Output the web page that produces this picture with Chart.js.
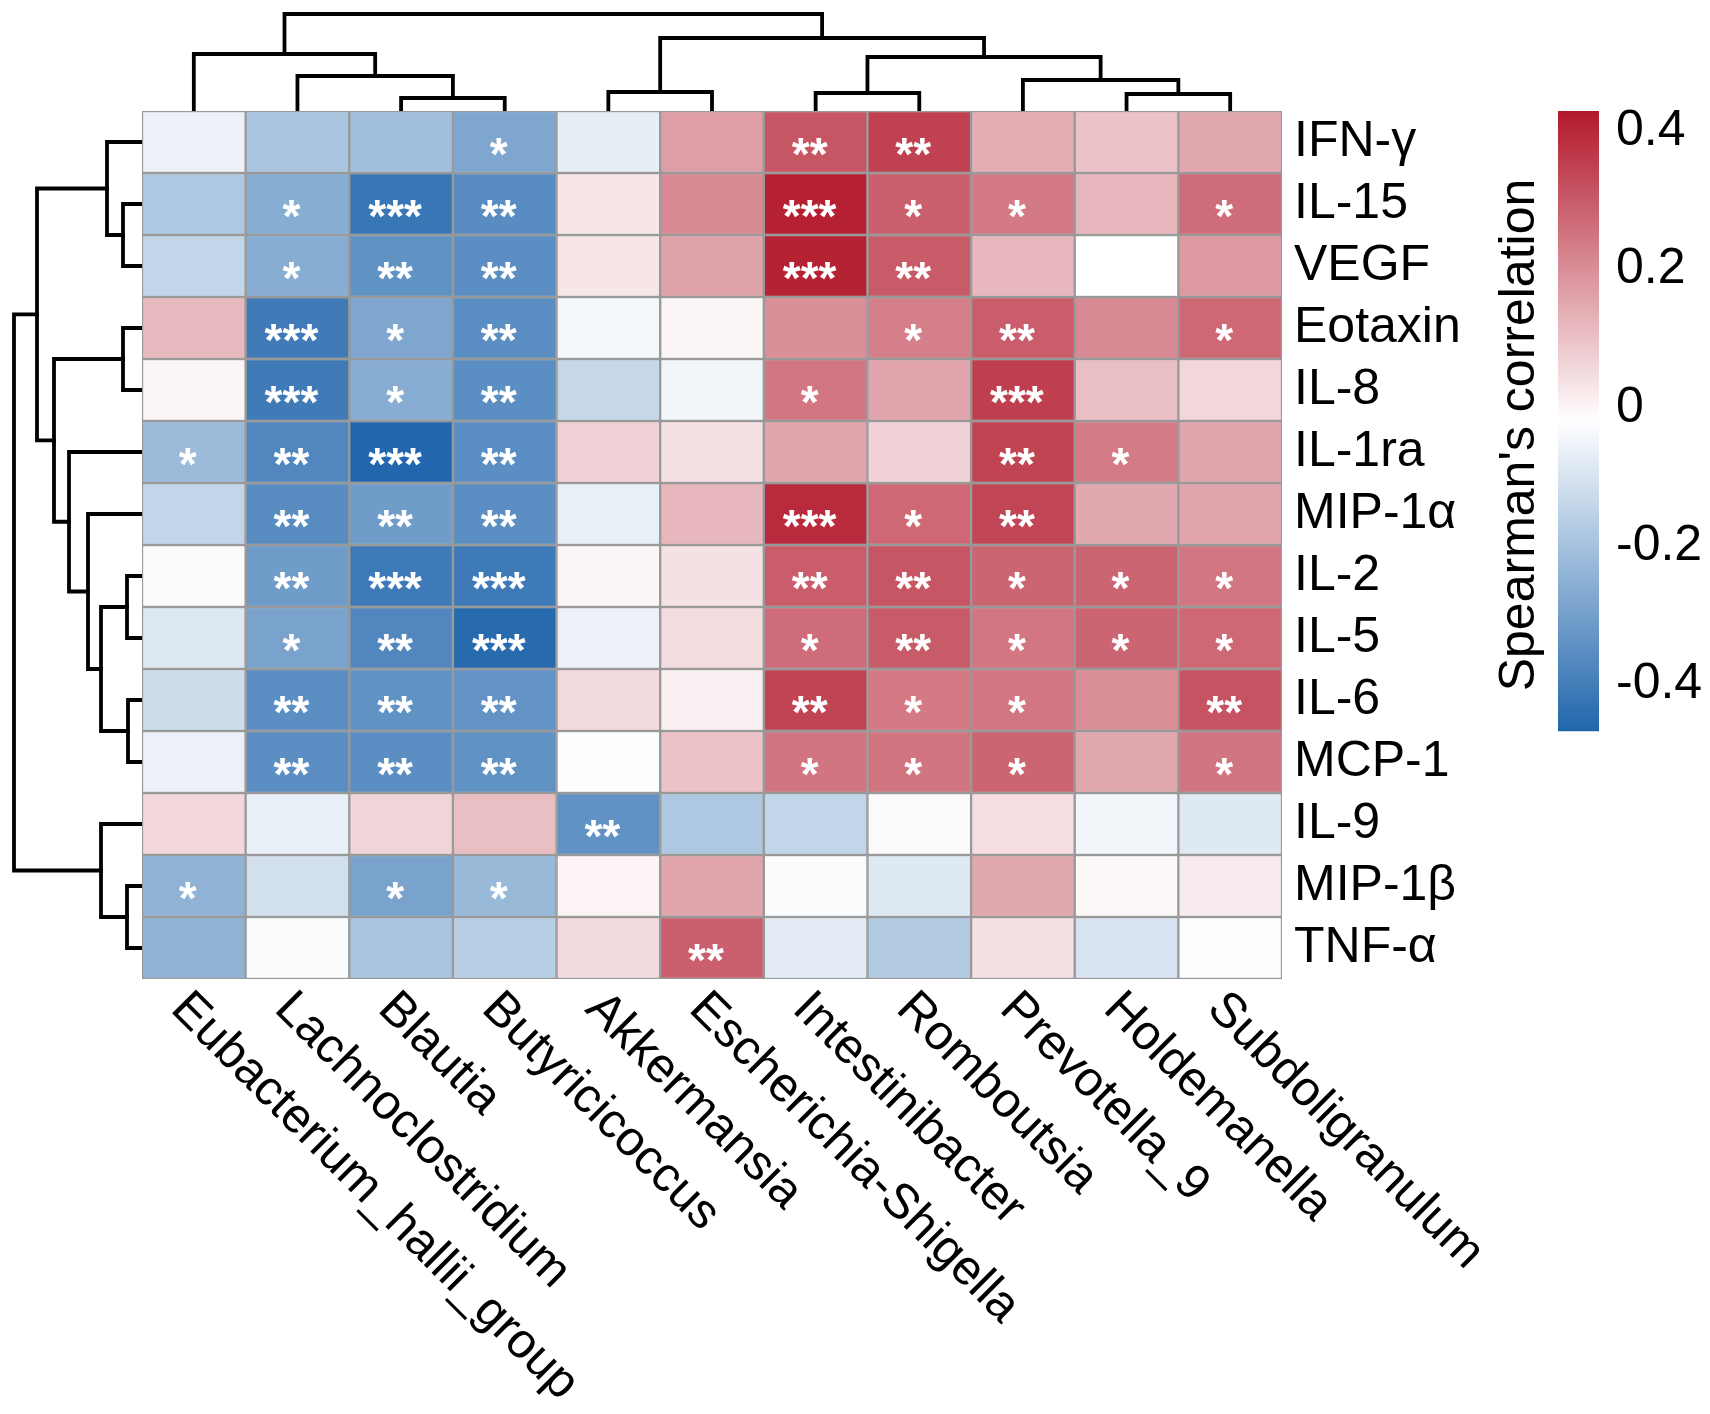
<!DOCTYPE html>
<html>
<head>
<meta charset="utf-8">
<script src="https://cdn.jsdelivr.net/npm/chart.js@4.4.1/dist/chart.umd.min.js"></script>
<style>
html,body{margin:0;padding:0;background:#fff;}
#wrap{position:relative;width:1710px;height:1414px;overflow:hidden;background:#fff;}
canvas{position:absolute;display:block;}
</style>
</head>
<body>
<div id="wrap">
<canvas id="heat" width="1710" height="1414" style="left:0;top:0;width:1710px;height:1414px"></canvas>
<canvas id="dTop" width="1140" height="111" style="left:142px;top:0;width:1140px;height:111px"></canvas>
<canvas id="dLeft" width="142" height="868" style="left:0;top:111px;width:142px;height:868px"></canvas>
<canvas id="cbar" width="220" height="768" style="left:1490px;top:51px;width:220px;height:768px"></canvas>
</div>
<script>
// ---------------- data ----------------
const colLabels = ["Eubacterium_hallii_group","Lachnoclostridium","Blautia","Butyricicoccus","Akkermansia",
  "Escherichia-Shigella","Intestinibacter","Romboutsia","Prevotella_9","Holdemanella","Subdoligranulum"];
const rowLabels = ["IFN-γ","IL-15","VEGF","Eotaxin","IL-8","IL-1ra","MIP-1α","IL-2","IL-5","IL-6","MCP-1","IL-9","MIP-1β","TNF-α"];

const rIFNg   = [-0.06,-0.19,-0.21,-0.28,-0.07,0.17,0.31,0.35,0.14,0.10,0.15];
const rIL15   = [-0.18,-0.26,-0.42,-0.355,0.03,0.21,0.415,0.29,0.24,0.12,0.265];
const rVEGF   = [-0.14,-0.26,-0.34,-0.35,0.03,0.16,0.41,0.30,0.12,-0.02,0.18];
const rEotaxin= [0.115,-0.405,-0.28,-0.35,-0.04,0.0,0.20,0.23,0.295,0.21,0.275];
const rIL8    = [0.0,-0.405,-0.26,-0.35,-0.135,-0.045,0.245,0.155,0.355,0.105,0.06];
const rIL1ra  = [-0.22,-0.37,-0.465,-0.35,0.07,0.04,0.155,0.07,0.345,0.235,0.155];
const rMIP1a  = [-0.14,-0.355,-0.31,-0.35,-0.065,0.12,0.395,0.275,0.34,0.15,0.155];
const rIL2    = [-0.01,-0.31,-0.41,-0.41,0.0,0.04,0.295,0.31,0.28,0.28,0.245];
const rIL5    = [-0.09,-0.29,-0.37,-0.455,-0.06,0.05,0.265,0.30,0.245,0.28,0.275];
const rIL6    = [-0.12,-0.35,-0.34,-0.335,0.055,0.01,0.345,0.24,0.245,0.20,0.315];
const rMCP1   = [-0.06,-0.35,-0.35,-0.34,-0.025,0.10,0.25,0.25,0.28,0.15,0.25];
const rIL9    = [0.06,-0.065,0.065,0.105,-0.34,-0.18,-0.14,-0.01,0.045,-0.045,-0.085];
const rMIP1b  = [-0.245,-0.11,-0.29,-0.225,0.005,0.155,-0.03,-0.085,0.15,-0.005,0.02];
const rTNFa   = [-0.245,-0.03,-0.19,-0.16,0.055,0.29,-0.075,-0.175,0.04,-0.1,-0.015];

const sIFNg   = ["","","","*","","","**","**","","",""];
const sIL15   = ["","*","***","**","","","***","*","*","","*"];
const sVEGF   = ["","*","**","**","","","***","**","","",""];
const sEotaxin= ["","***","*","**","","","","*","**","","*"];
const sIL8    = ["","***","*","**","","","*","","***","",""];
const sIL1ra  = ["*","**","***","**","","","","","**","*",""];
const sMIP1a  = ["","**","**","**","","","***","*","**","",""];
const sIL2    = ["","**","***","***","","","**","**","*","*","*"];
const sIL5    = ["","*","**","***","","","*","**","*","*","*"];
const sIL6    = ["","**","**","**","","","**","*","*","","**"];
const sMCP1   = ["","**","**","**","","","*","*","*","","*"];
const sIL9    = ["","","","","**","","","","","",""];
const sMIP1b  = ["*","","*","*","","","","","","",""];
const sTNFa   = ["","","","","","**","","","","",""];

// hclust-style merges: negative = leaf (1-based), positive = earlier merge; third = height
const colMerge = [[-3,-4,13],[-10,-11,17],[-7,-8,18],[-5,-6,19],[-9,2,31],[-2,1,35],[3,5,54],[-1,6,57],[4,7,73],[8,9,97]];
const rowMerge = [[-10,-11,14],[-8,-9,15],[-13,-14,15],[-2,-3,19],[-4,-5,19],[-1,4,35],[2,1,41],[-12,3,41],[-7,7,54],[-6,9,73],[5,10,88],[6,11,105],[12,8,128]];

const colorMin = -0.468, colorMax = 0.43;
const legendTicks = [0.4, 0.2, 0, -0.2, -0.4];

// ---------------- helpers ----------------
const corr = [rIFNg,rIL15,rVEGF,rEotaxin,rIL8,rIL1ra,rMIP1a,rIL2,rIL5,rIL6,rMCP1,rIL9,rMIP1b,rTNFa];
const stars = [sIFNg,sIL15,sVEGF,sEotaxin,sIL8,sIL1ra,sMIP1a,sIL2,sIL5,sIL6,sMCP1,sIL9,sMIP1b,sTNFa];
const FONT = '"Liberation Sans", Arial, Helvetica, sans-serif';
const FS = 50;
const LOW = [33,102,172], MID = [255,255,255], HIGH = [178,24,43];
function colorFor(v){
  let t = (v - colorMin)/(colorMax - colorMin);
  t = Math.max(0, Math.min(1, t));
  let a, b, f;
  if (t < 0.5) { a = LOW; b = MID; f = t/0.5; } else { a = MID; b = HIGH; f = (t-0.5)/0.5; }
  const c = a.map((x,i)=>Math.round(x + (b[i]-x)*f));
  return `rgb(${c[0]},${c[1]},${c[2]})`;
}
function buildDendro(merge, leafPos, orient){
  const pos = [], hgt = [];
  const get = k => k < 0 ? {p: leafPos(-k-1), h: 0} : {p: pos[k-1], h: hgt[k-1]};
  return merge.map(([a,b,h], i) => {
    const A = get(a), B = get(b);
    pos[i] = (A.p + B.p)/2; hgt[i] = h;
    const pts = [[A.p,A.h],[A.p,h],[B.p,h],[B.p,B.h]];
    return {
      data: pts.map(([p,hh]) => orient === 'top' ? {x:p, y:hh} : {x:hh, y:p}),
      showLine: true, borderColor: '#000', borderWidth: 3.8, pointRadius: 0,
      borderJoinStyle: 'miter', borderCapStyle: 'square', tension: 0, fill: false
    };
  });
}
Chart.defaults.font.family = FONT;
Chart.defaults.color = '#000';
const common = {responsive:false, animation:false, devicePixelRatio:1,
  plugins:{legend:{display:false}, tooltip:{enabled:false}}};

// ---------------- heatmap ----------------
const starPlugin = {
  id: 'stars',
  afterDatasetsDraw(chart){
    const {ctx} = chart; const x = chart.scales.x, y = chart.scales.y;
    ctx.save();
    ctx.fillStyle = '#fff'; ctx.font = 'bold 46px ' + FONT;
    ctx.textAlign = 'center'; ctx.textBaseline = 'alphabetic';
    stars.forEach((row, r) => row.forEach((s, j) => {
      if (!s) return;
      ctx.fillText(s, x.getPixelForValue(j) - 6, y.getPixelForValue(r + 0.5) + 28);
    }));
    ctx.restore();
  }
};
const colLabelPlugin = {
  id: 'colLabels',
  afterDraw(chart){
    const {ctx, chartArea} = chart; const x = chart.scales.x;
    ctx.save();
    ctx.fillStyle = '#000'; ctx.font = '49px ' + FONT;
    ctx.textAlign = 'left'; ctx.textBaseline = 'middle';
    colLabels.forEach((lab, j) => {
      ctx.save();
      ctx.translate(x.getPixelForValue(j) - 15, chartArea.bottom + 22);
      ctx.rotate(Math.PI/4);
      ctx.fillText(lab, 0, 0);
      ctx.restore();
    });
    ctx.restore();
  }
};
new Chart(document.getElementById('heat'), {
  type: 'bar',
  data: {
    labels: colLabels,
    datasets: rowLabels.map((name, r) => ({
      label: name,
      data: colLabels.map(() => [r, r + 1]),
      backgroundColor: corr[r].map(colorFor),
      borderColor: '#999999', borderWidth: 1.5, borderSkipped: false,
      barPercentage: 1, categoryPercentage: 1, grouped: false
    }))
  },
  options: Object.assign({}, common, {
    layout: {autoPadding:false, padding: {left:142, top:111, right:1710-1282-250, bottom:1414-979}},
    scales: {
      x: {type:'category', display:false, offset:true},
      y: {type:'linear', min:0, max:14, reverse:true, position:'right',
        afterBuildTicks: s => { s.ticks = rowLabels.map((_, i) => ({value: i + 0.5})); },
        afterFit: s => { s.width = 250; },
        ticks: {callback: v => rowLabels[Math.floor(v)], font:{size:FS, family:FONT}, color:'#000', padding:12, autoSkip:false},
        grid: {display:false, drawTicks:false}, border: {display:false}}
    }
  }),
  plugins: [starPlugin, colLabelPlugin]
});

// ---------------- dendrograms ----------------
new Chart(document.getElementById('dTop'), {
  type: 'scatter',
  data: {datasets: buildDendro(colMerge, i => i, 'top')},
  options: Object.assign({}, common, {
    layout: {autoPadding:false, padding: 0},
    scales: {x:{type:'linear', min:-0.5, max:10.5, display:false}, y:{type:'linear', min:0, max:111, display:false}}
  })
});
new Chart(document.getElementById('dLeft'), {
  type: 'scatter',
  data: {datasets: buildDendro(rowMerge, i => i + 0.5, 'left')},
  options: Object.assign({}, common, {
    layout: {autoPadding:false, padding: 0},
    scales: {x:{type:'linear', min:0, max:142, reverse:true, display:false}, y:{type:'linear', min:0, max:14, reverse:true, display:false}}
  })
});

// ---------------- colour bar ----------------
const cbTop = 0.4298, cbBottom = -0.5085;
new Chart(document.getElementById('cbar'), {
  type: 'bar',
  data: {
    labels: [''],
    datasets: [{
      data: [[colorMin, colorMax]],
      backgroundColor: (c) => {
        const chart = c.chart; if (!chart.chartArea) return '#fff';
        const ys = chart.scales.y;
        const g = chart.ctx.createLinearGradient(0, ys.getPixelForValue(colorMin), 0, ys.getPixelForValue(colorMax));
        for (let i = 0; i <= 40; i++) { const v = colorMin + (colorMax - colorMin) * i / 40; g.addColorStop(i / 40, colorFor(v)); }
        return g;
      },
      borderWidth: 0, barPercentage: 1, categoryPercentage: 1
    }]
  },
  options: Object.assign({}, common, {
    layout: {autoPadding:false, padding: {top:60, bottom:60, left:0, right:0}},
    scales: {
      x: {display:false},
      y: {type:'linear', position:'right', min:cbBottom, max:cbTop,
        afterBuildTicks: s => { s.ticks = legendTicks.map(v => ({value: v})); },
        afterFit: s => { s.width = 111; },
        ticks: {callback: v => String(v), font:{size:FS, family:FONT}, color:'#000', padding:17},
        grid: {display:false, drawTicks:false}, border: {display:false}},
      y2: {type:'linear', position:'left', min:cbBottom, max:cbTop,
        afterFit: s => { s.width = 68; },
        ticks: {display:false}, grid: {display:false, drawTicks:false}, border: {display:false},
        title: {display:true, text:"Spearman's correlation", font:{size:FS, family:FONT}, color:'#000', padding:0}}
    }
  })
});
</script>
</body>
</html>
